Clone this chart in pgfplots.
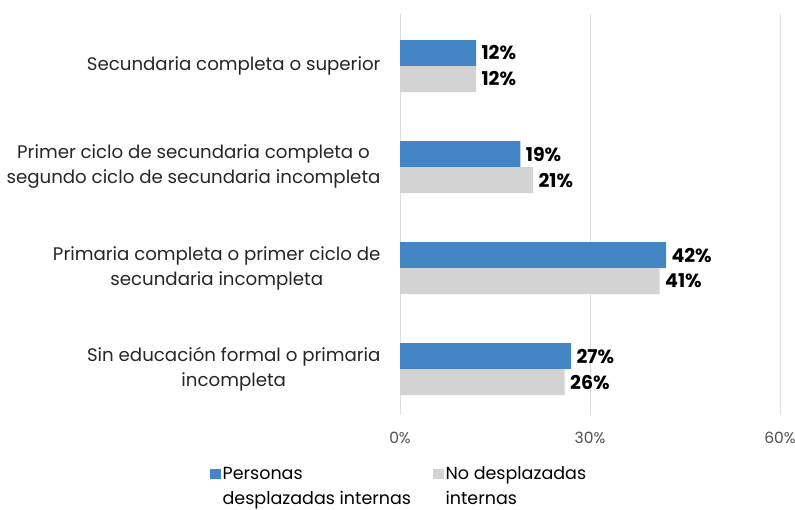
\documentclass[border=0pt]{standalone}
\usepackage{fontspec}
\setmainfont{Poppins}
\usepackage{pgfplots}
\pgfplotsset{compat=1.18}
\definecolor{bluebar}{RGB}{68,133,198}
\definecolor{graybar}{RGB}{211,211,211}
\definecolor{gridc}{RGB}{222,222,222}
\definecolor{tickc}{RGB}{80,80,80}
\begin{document}
\begin{tikzpicture}[x=1pt,y=1pt]
\begin{axis}[
  at={(400pt,95pt)}, anchor=south west,
  scale only axis, width=380pt, height=401pt,
  xmin=0, xmax=60, ymin=-0.455, ymax=3.515,
  xtick={0,30,60},
  xticklabel={\pgfmathprintnumber{\tick}\%},
  xticklabel style={font=\fontsize{15.5}{17}\selectfont, text=tickc, yshift=-14pt},
  ytick={0,1,2,3},
  yticklabels={{Sin educación formal o primaria\\incompleta},
               {Primaria completa o primer ciclo de\\secundaria incompleta},
               {Primer ciclo de secundaria completa o\\segundo ciclo de secundaria incompleta},
               {Secundaria completa o superior}},
  yticklabel style={align=center, font=\fontsize{18.2}{25}\selectfont, text=black!85, xshift=-16pt},
  axis line style={draw=none}, major tick length=0pt,
  xmajorgrids, grid style={gridc, line width=0.9pt},
  xbar, bar width=26pt,
  nodes near coords={\pgfmathprintnumber{\pgfplotspointmeta}\%},
  nodes near coords align=horizontal,
  every node near coord/.append style={font=\bfseries\fontsize{19}{21}\selectfont, text=black, xshift=2pt},
  /pgf/number format/assume math mode=true,
  legend style={draw=none, legend columns=2, at={(-0.508,-0.118)}, anchor=north west,
     font=\fontsize{17.5}{25}\selectfont, nodes={align=left},
     /tikz/every even column/.append style={column sep=20pt}},
  legend image code/.code={\fill[#1] (-3pt,7pt) rectangle (7.5pt,17.5pt);},
]
\addplot[fill=bluebar, draw=none, bar shift=13pt] coordinates {(27,0) (42,1) (19,2) (12,3)};
\addplot[fill=graybar, draw=none, bar shift=-13pt] coordinates {(26,0) (41,1) (21,2) (12,3)};
\legend{{Personas\\desplazadas internas},{No desplazadas\\internas}}
\end{axis}
\pgfresetboundingbox
\path (0,0) rectangle (795pt,510pt);
\end{tikzpicture}
\end{document}
